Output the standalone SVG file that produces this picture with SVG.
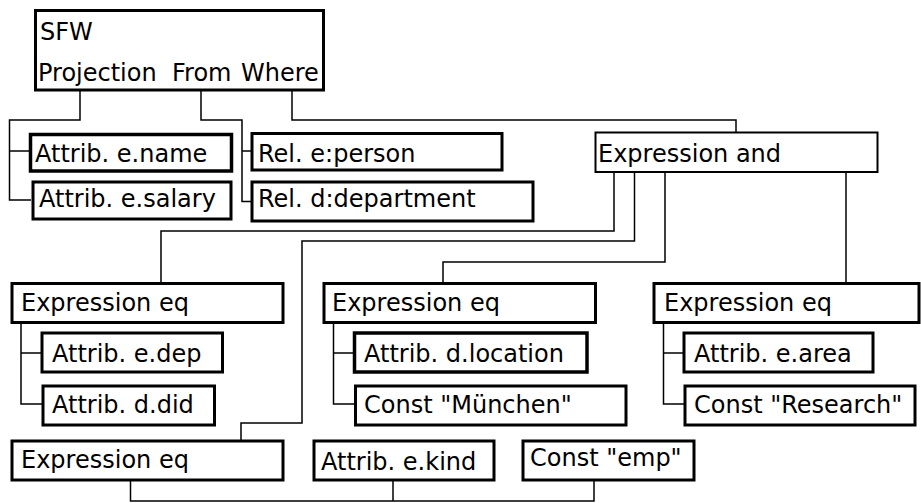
<svg xmlns="http://www.w3.org/2000/svg" width="921" height="503" viewBox="0 0 921 503">
<style>
.box{fill:#fff;stroke:#000;stroke-width:3}
.thin{stroke-width:2}
.lbl{font-family:"DejaVu Sans",sans-serif;font-size:24px;fill:#000}
.con{fill:none;stroke:#000;stroke-width:1.5}
</style>
<rect width="921" height="503" fill="#fff"/>
<g id="connectors">
<polyline class="con" points="80,90 80,120 9.5,120 9.5,200 31,200"/>
<line class="con" x1="9.5" y1="151" x2="31" y2="151"/>
<polyline class="con" points="201,90 201,120 242,120 242,201.5 252,201.5"/>
<line class="con" x1="242" y1="151" x2="252" y2="151"/>
<polyline class="con" points="292,90 292,120 736,120 736,132"/>
<polyline class="con" points="614,173 614,231 161,231 161,282"/>
<polyline class="con" points="634.5,173 634.5,241 302,241 302,423 241,423 241,442"/>
<polyline class="con" points="665,173 665,262 443,262 443,282"/>
<line class="con" x1="846" y1="173" x2="846" y2="282"/>
<polyline class="con" points="21,323 21,404 42,404"/>
<line class="con" x1="21" y1="353" x2="42" y2="353"/>
<polyline class="con" points="333.5,323 333.5,404 355,404"/>
<line class="con" x1="333.5" y1="353" x2="354" y2="353"/>
<polyline class="con" points="663.5,323 663.5,404 685,404"/>
<line class="con" x1="663.5" y1="353" x2="684" y2="353"/>
<polyline class="con" points="130.5,481 130.5,501 594,501 594,481"/>
<line class="con" x1="393" y1="481" x2="393" y2="501"/>
</g>
<g id="sfw">
<rect class="box" x="35.5" y="10.5" width="288" height="79.5"/>
<text class="lbl" x="40" y="40">SFW</text>
<text class="lbl" x="38" y="81">Projection</text>
<text class="lbl" x="172" y="81">From</text>
<text class="lbl" x="241" y="81">Where</text>
</g>
<g id="attrib-e-name">
<rect class="box" x="30.5" y="134.5" width="201" height="36.5" style="stroke-width:3.5"/>
<text class="lbl" x="35" y="162">Attrib. e.name</text>
</g>
<g id="attrib-e-salary">
<rect class="box" x="33" y="182" width="198" height="37"/>
<text class="lbl" x="39" y="207">Attrib. e.salary</text>
</g>
<g id="rel-e-person">
<rect class="box" x="252" y="133.5" width="250" height="36.5"/>
<text class="lbl" x="258" y="162">Rel. e:person</text>
</g>
<g id="rel-d-department">
<rect class="box" x="252" y="182" width="281" height="39"/>
<text class="lbl" x="258" y="207">Rel. d:department</text>
</g>
<g id="expression-and">
<rect class="box thin" x="595.5" y="132.5" width="282" height="39.5"/>
<text class="lbl" x="598" y="162">Expression and</text>
</g>
<g id="expr-eq-1">
<rect class="box" x="12" y="283.5" width="271" height="39"/>
<text class="lbl" x="21" y="311">Expression eq</text>
</g>
<g id="attrib-e-dep">
<rect class="box" x="42" y="333" width="180.5" height="39"/>
<text class="lbl" x="52" y="362">Attrib. e.dep</text>
</g>
<g id="attrib-d-did">
<rect class="box" x="43" y="386" width="171.5" height="39"/>
<text class="lbl" x="52" y="413">Attrib. d.did</text>
</g>
<g id="expr-eq-2">
<rect class="box" x="324" y="283.5" width="271.5" height="39"/>
<text class="lbl" x="332" y="311">Expression eq</text>
</g>
<g id="attrib-d-location">
<rect class="box" x="354.5" y="333" width="232.5" height="39" style="stroke-width:3.5"/>
<text class="lbl" x="364" y="362">Attrib. d.location</text>
</g>
<g id="const-muenchen">
<rect class="box" x="355.5" y="386" width="270.5" height="39"/>
<text class="lbl" x="364" y="413">Const "München"</text>
</g>
<g id="expr-eq-3">
<rect class="box" x="654" y="283.5" width="265" height="39"/>
<text class="lbl" x="664" y="311">Expression eq</text>
</g>
<g id="attrib-e-area">
<rect class="box" x="684" y="333" width="189" height="39"/>
<text class="lbl" x="694" y="362">Attrib. e.area</text>
</g>
<g id="const-research">
<rect class="box" x="685" y="386" width="230" height="39"/>
<text class="lbl" x="694" y="413">Const "Research"</text>
</g>
<g id="expr-eq-4">
<rect class="box" x="12" y="441" width="271" height="39"/>
<text class="lbl" x="21" y="468">Expression eq</text>
</g>
<g id="attrib-e-kind">
<rect class="box" x="314" y="441" width="180" height="39"/>
<text class="lbl" x="321" y="470">Attrib. e.kind</text>
</g>
<g id="const-emp">
<rect class="box" x="523" y="441" width="171" height="39"/>
<text class="lbl" x="530" y="466">Const "emp"</text>
</g>
</svg>
